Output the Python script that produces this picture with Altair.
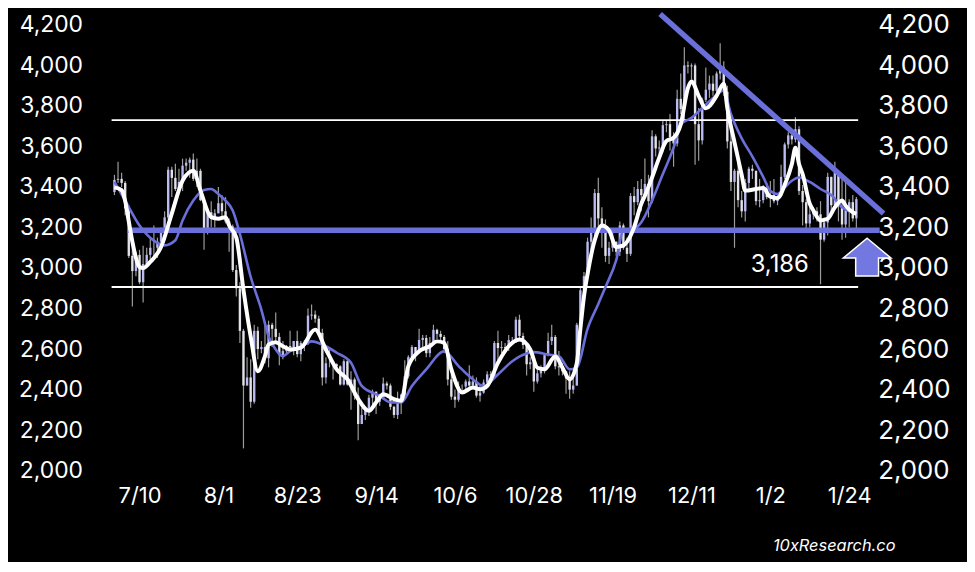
import altair as alt
import pandas as pd
import numpy as np

# ---------------- data ----------------
START = "2024-07-03"
OPEN0 = 3375
CLOSE = [3435, 3440, 3420, 3295, 3060, 2985, 3065, 2930, 3020, 3065,
         3100, 3100, 3130, 3175, 3250, 3485, 3445, 3390, 3425, 3505,
         3520, 3535, 3440, 3480, 3335, 3175, 3275, 3250, 3270, 3320,
         3280, 3230, 3205, 2990, 2900, 2690, 2420, 2460, 2340, 2690,
         2600, 2610, 2555, 2720, 2700, 2660, 2570, 2590, 2615, 2610,
         2640, 2575, 2630, 2625, 2765, 2770, 2750, 2680, 2460, 2530,
         2530, 2525, 2515, 2425, 2540, 2425, 2450, 2370, 2230, 2275,
         2300, 2360, 2390, 2340, 2360, 2430, 2420, 2315, 2275, 2340,
         2375, 2465, 2560, 2610, 2580, 2645, 2655, 2580, 2630, 2695,
         2675, 2660, 2600, 2450, 2365, 2350, 2415, 2415, 2440, 2420,
         2440, 2370, 2385, 2435, 2475, 2470, 2630, 2605, 2610, 2605,
         2645, 2645, 2745, 2665, 2620, 2525, 2535, 2440, 2480, 2505,
         2570, 2640, 2660, 2515, 2510, 2490, 2455, 2400, 2420, 2720,
         2890, 2960, 3130, 3180, 3370, 3245, 3190, 3060, 3100, 3130,
         3080, 3210, 3100, 3070, 3355, 3325, 3390, 3360, 3415, 3330,
         3650, 3590, 3595, 3705, 3710, 3645, 3615, 3835, 3785, 4000,
         3995, 4000, 3710, 3630, 3830, 3880, 3910, 3875, 3960, 3990,
         3870, 3625, 3425, 3480, 3335, 3280, 3420, 3490, 3480, 3330,
         3335, 3395, 3350, 3360, 3330, 3355, 3450, 3610, 3655, 3635,
         3685, 3380, 3325, 3220, 3265, 3280, 3265, 3140, 3225, 3450,
         3310, 3475, 3305, 3215, 3285, 3325, 3245, 3340]
HIGH = [3460, 3525, 3470, 3430, 3310, 3110, 3080, 3090, 3110, 3100,
        3145, 3210, 3150, 3200, 3280, 3500, 3500, 3515, 3490, 3540,
        3540, 3545, 3565, 3540, 3490, 3340, 3290, 3330, 3290, 3400,
        3360, 3350, 3245, 3215, 3015, 2930, 2700, 2560, 2550, 2720,
        2710, 2640, 2720, 2740, 2730, 2780, 2680, 2640, 2620, 2690,
        2640, 2690, 2640, 2645, 2800, 2820, 2790, 2765, 2700, 2560,
        2600, 2535, 2530, 2520, 2550, 2550, 2490, 2460, 2410, 2310,
        2310, 2375, 2400, 2390, 2380, 2460, 2440, 2430, 2320, 2390,
        2380, 2545, 2570, 2620, 2610, 2700, 2670, 2670, 2660, 2720,
        2700, 2690, 2670, 2640, 2500, 2400, 2440, 2425, 2450, 2520,
        2470, 2460, 2420, 2450, 2490, 2490, 2640, 2690, 2640, 2630,
        2670, 2660, 2760, 2770, 2680, 2625, 2560, 2560, 2500, 2520,
        2580, 2680, 2720, 2670, 2590, 2530, 2490, 2490, 2470, 2730,
        2910, 2980, 3150, 3250, 3390, 3445, 3300, 3240, 3130, 3180,
        3130, 3230, 3220, 3150, 3370, 3400, 3430, 3440, 3540, 3460,
        3680, 3660, 3630, 3730, 3730, 3760, 3670, 3880, 3960, 4090,
        4020, 4010, 4010, 3790, 3840, 3990, 3950, 3950, 3970, 4110,
        4020, 3900, 3700, 3490, 3550, 3380, 3440, 3500, 3510, 3480,
        3440, 3410, 3420, 3430, 3440, 3370, 3510, 3620, 3670, 3660,
        3745, 3700, 3410, 3340, 3320, 3300, 3300, 3330, 3250, 3470,
        3450, 3525, 3480, 3450, 3450, 3340, 3360, 3350]
LOW = [3360, 3420, 3400, 3260, 3050, 2810, 2960, 2920, 2830, 3010,
       3040, 3050, 3050, 3120, 3160, 3240, 3350, 3380, 3380, 3380,
       3480, 3445, 3430, 3400, 3330, 3090, 3165, 3200, 3200, 3270,
       3255, 3220, 3080, 2980, 2860, 2630, 2110, 2420, 2310, 2330,
       2550, 2580, 2530, 2510, 2610, 2640, 2520, 2550, 2580, 2600,
       2570, 2560, 2540, 2590, 2620, 2745, 2730, 2670, 2420, 2430,
       2510, 2450, 2500, 2420, 2420, 2420, 2300, 2350, 2150, 2260,
       2250, 2270, 2325, 2280, 2320, 2350, 2400, 2300, 2260, 2255,
       2280, 2370, 2455, 2555, 2540, 2580, 2590, 2560, 2560, 2625,
       2650, 2630, 2580, 2420, 2350, 2310, 2340, 2390, 2400, 2410,
       2410, 2360, 2340, 2380, 2430, 2435, 2460, 2520, 2580, 2590,
       2590, 2630, 2630, 2640, 2600, 2470, 2500, 2390, 2430, 2460,
       2480, 2565, 2620, 2500, 2470, 2470, 2380, 2355, 2380, 2420,
       2710, 2870, 2960, 3090, 3150, 3200, 3100, 3030, 3020, 3080,
       3060, 3060, 3090, 3030, 3060, 3260, 3310, 3280, 3350, 3250,
       3320, 3550, 3540, 3570, 3670, 3580, 3500, 3600, 3760, 3720,
       3960, 3930, 3510, 3530, 3610, 3820, 3840, 3850, 3860, 3930,
       3850, 3590, 3380, 3100, 3300, 3250, 3230, 3380, 3440, 3310,
       3300, 3320, 3340, 3300, 3320, 3310, 3350, 3440, 3590, 3610,
       3620, 3360, 3210, 3190, 3200, 3240, 3230, 2920, 3130, 3160,
       3270, 3320, 3230, 3140, 3150, 3200, 3230, 3190]

# short moving average (white line)
WHITE_DATES = ["2024-07-03", "2024-07-05", "2024-07-06", "2024-07-07", "2024-07-08",
               "2024-07-09", "2024-07-10", "2024-07-11", "2024-07-13", "2024-07-16",
               "2024-07-19", "2024-07-22", "2024-07-25", "2024-07-27", "2024-07-30",
               "2024-08-01", "2024-08-03", "2024-08-04", "2024-08-06", "2024-08-08",
               "2024-08-10", "2024-08-12", "2024-08-14", "2024-08-15", "2024-08-17",
               "2024-08-19", "2024-08-21", "2024-08-24", "2024-08-28", "2024-08-31",
               "2024-09-03", "2024-09-06", "2024-09-09", "2024-09-12", "2024-09-14",
               "2024-09-16", "2024-09-19", "2024-09-21", "2024-09-23", "2024-09-26",
               "2024-09-29", "2024-10-01", "2024-10-03", "2024-10-05", "2024-10-08",
               "2024-10-11", "2024-10-13", "2024-10-15", "2024-10-18", "2024-10-21",
               "2024-10-24", "2024-10-27", "2024-10-29", "2024-10-31", "2024-11-03",
               "2024-11-05", "2024-11-07", "2024-11-09", "2024-11-10", "2024-11-11",
               "2024-11-12", "2024-11-14", "2024-11-16", "2024-11-18", "2024-11-20",
               "2024-11-22", "2024-11-23", "2024-11-25", "2024-11-27", "2024-11-28",
               "2024-11-30", "2024-12-02", "2024-12-04", "2024-12-06", "2024-12-08",
               "2024-12-10", "2024-12-11", "2024-12-13", "2024-12-15", "2024-12-18",
               "2024-12-20", "2024-12-21", "2024-12-23", "2024-12-25", "2024-12-26",
               "2024-12-29", "2024-12-31", "2025-01-02", "2025-01-04", "2025-01-06",
               "2025-01-08", "2025-01-09", "2025-01-10", "2025-01-11", "2025-01-13",
               "2025-01-14", "2025-01-16", "2025-01-18", "2025-01-20", "2025-01-22",
               "2025-01-23", "2025-01-25", "2025-01-26"]
WHITE_VALUES = [3398, 3385, 3330, 3230, 3130, 3050, 3005, 3000, 3030, 3104,
                3269, 3431, 3480, 3382, 3251, 3243, 3251, 3210, 3150, 2892,
                2663, 2491, 2565, 2622, 2634, 2614, 2598, 2607, 2696, 2598,
                2500, 2451, 2353, 2295, 2337, 2377, 2353, 2345, 2516, 2589,
                2614, 2638, 2631, 2500, 2386, 2410, 2402, 2418, 2532, 2614,
                2647, 2598, 2508, 2500, 2565, 2508, 2451, 2530, 2700, 2860,
                2970, 3137, 3210, 3186, 3104, 3112, 3129, 3202, 3317, 3357,
                3447, 3545, 3627, 3643, 3709, 3888, 3921, 3850, 3788, 3850,
                3910, 3790, 3620, 3460, 3382, 3390, 3395, 3352, 3345, 3410,
                3513, 3594, 3513, 3464, 3317, 3284, 3235, 3243, 3300, 3333,
                3308, 3275, 3267]

# longer moving average (blue line)
BLUE_DATES = ["2024-07-03", "2024-07-06", "2024-07-10", "2024-07-14", "2024-07-17",
              "2024-07-20", "2024-07-22", "2024-07-25", "2024-07-28", "2024-07-30",
              "2024-08-01", "2024-08-03", "2024-08-05", "2024-08-07", "2024-08-10",
              "2024-08-13", "2024-08-15", "2024-08-17", "2024-08-19", "2024-08-21",
              "2024-08-24", "2024-08-27", "2024-08-31", "2024-09-03", "2024-09-07",
              "2024-09-10", "2024-09-15", "2024-09-18", "2024-09-21", "2024-09-24",
              "2024-09-28", "2024-10-03", "2024-10-07", "2024-10-11", "2024-10-14",
              "2024-10-18", "2024-10-22", "2024-10-26", "2024-10-28", "2024-11-01",
              "2024-11-04", "2024-11-07", "2024-11-09", "2024-11-12", "2024-11-15",
              "2024-11-17", "2024-11-20", "2024-11-22", "2024-11-25", "2024-11-27",
              "2024-11-30", "2024-12-03", "2024-12-06", "2024-12-08", "2024-12-11",
              "2024-12-14", "2024-12-17", "2024-12-20", "2024-12-22", "2024-12-25",
              "2024-12-28", "2024-12-31", "2025-01-02", "2025-01-04", "2025-01-06",
              "2025-01-08", "2025-01-10", "2025-01-13", "2025-01-16", "2025-01-19",
              "2025-01-22", "2025-01-24", "2025-01-26"]
BLUE_VALUES = [3425, 3333, 3210, 3135, 3112, 3137, 3235, 3333, 3385, 3390,
               3365, 3333, 3284, 3169, 2957, 2794, 2663, 2598, 2565, 2590,
               2610, 2638, 2614, 2582, 2532, 2418, 2369, 2337, 2337, 2418,
               2500, 2589, 2516, 2451, 2418, 2475, 2540, 2578, 2585, 2573,
               2565, 2500, 2508, 2700, 2823, 2906, 3039, 3186, 3194, 3226,
               3333, 3464, 3594, 3709, 3741, 3790, 3839, 3876, 3760, 3640,
               3550, 3450, 3380, 3365, 3398, 3431, 3447, 3425, 3390, 3360,
               3300, 3280, 3270]

# reference levels and annotations
SUPPORT = 3186
RANGE_LEVELS = [3730, 2906]
RANGE_START, RANGE_END = "2024-07-02T05:00:00", "2025-01-26T12:00:00"
SUPPORT_START, SUPPORT_END = "2024-07-06T13:00:00", "2025-02-01T12:00:00"
TREND_DATES = ["2024-12-02T06:00:00", "2025-02-02T14:00:00"]
TREND_VALUES = [4254, 3269]
LABEL_DATE, LABEL_VALUE, LABEL_TEXT = "2025-01-04T15:00:00", 3014, "3,186"
ARROW_DATE, ARROW_VALUE = "2025-01-29T00:00:00", 3054

TICK_DATES = ["2024-07-10", "2024-08-01", "2024-08-23", "2024-09-14", "2024-10-06",
              "2024-10-28", "2024-11-19", "2024-12-11", "2025-01-02", "2025-01-24"]
Y_TICKS = list(range(2000, 4201, 200))

# ---------------- tables ----------------
dates = pd.date_range(START, periods=len(CLOSE), freq="D")
opens = [OPEN0] + CLOSE[:-1]
candles = pd.DataFrame({"date": dates, "open": opens, "close": CLOSE,
                        "high": HIGH, "low": LOW})
candles["dir"] = np.where(candles["close"] >= candles["open"], "up", "down")

white = pd.DataFrame({"date": pd.to_datetime(WHITE_DATES), "v": WHITE_VALUES})
blue = pd.DataFrame({"date": pd.to_datetime(BLUE_DATES), "v": BLUE_VALUES})
levels = pd.DataFrame({"date": pd.to_datetime([RANGE_START] * 2),
                       "end": pd.to_datetime([RANGE_END] * 2),
                       "v": RANGE_LEVELS})
support = pd.DataFrame({"date": pd.to_datetime([SUPPORT_START]),
                        "end": pd.to_datetime([SUPPORT_END]), "v": [SUPPORT]})
trend = pd.DataFrame({"date": pd.to_datetime(TREND_DATES), "v": TREND_VALUES})
label = pd.DataFrame({"date": pd.to_datetime([LABEL_DATE]), "v": [LABEL_VALUE],
                      "t": [LABEL_TEXT]})
arrow = pd.DataFrame({"date": pd.to_datetime([ARROW_DATE]), "v": [ARROW_VALUE]})
mark = pd.DataFrame({"t": ["10xResearch.co"]})

# ---------------- encodings ----------------
BLUE = "#6b6fd9"
FONT = "Inter"
xdom = [alt.DateTime(year=2024, month=7, date=1), alt.DateTime(year=2025, month=1, date=30)]
xscale = alt.Scale(domain=xdom)
yscale = alt.Scale(domain=[2000, 4200], nice=False, zero=False)
xaxis = alt.Axis(values=[alt.DateTime(year=int(d[:4]), month=int(d[5:7]), date=int(d[8:]))
                         for d in TICK_DATES],
                 format="%-m/%-d", labelColor="white", labelFontSize=22,
                 labelFont=FONT, labelPadding=15, domain=False, ticks=False,
                 grid=False, title=None, labelFlush=False, labelOverlap=False)
yaxis_left = alt.Axis(values=Y_TICKS, format=",.0f", orient="left", labelColor="white",
                      labelFontSize=23, labelFont=FONT, labelPadding=25, domain=False,
                      ticks=False, grid=False, title=None)
yaxis_right = alt.Axis(values=Y_TICKS, format=",.0f", orient="right", labelColor="white",
                       labelFontSize=26, labelFont=FONT, labelPadding=7, domain=False,
                       ticks=False, grid=False, title=None)

X = alt.X("date:T", scale=xscale, axis=xaxis)
Y_NONE = dict(scale=yscale, axis=None)

wicks = alt.Chart(candles).mark_rule(strokeWidth=1.2, color="#9c9c9c").encode(
    x=X, y=alt.Y("low:Q", scale=yscale, axis=yaxis_left), y2="high:Q")

bodies = alt.Chart(candles).mark_rule(strokeWidth=2.4).encode(
    x=X, y=alt.Y("open:Q", **Y_NONE), y2="close:Q",
    color=alt.Color("dir:N", scale=alt.Scale(domain=["up", "down"],
                                             range=["#b9bbf2", "#e2e2e8"]),
                    legend=None))

range_lines = alt.Chart(levels).mark_rule(color="white", strokeWidth=2).encode(
    x=X, x2="end:T", y=alt.Y("v:Q", **Y_NONE))

support_line = alt.Chart(support).mark_rule(color=BLUE, strokeWidth=5.5).encode(
    x=X, x2="end:T", y=alt.Y("v:Q", **Y_NONE))

blue_ma = alt.Chart(blue).mark_line(color=BLUE, strokeWidth=2.6,
                                    interpolate="monotone").encode(
    x=X, y=alt.Y("v:Q", **Y_NONE))

white_ma = alt.Chart(white).mark_line(color="white", strokeWidth=4,
                                      interpolate="monotone").encode(
    x=X, y=alt.Y("v:Q", scale=yscale, axis=yaxis_right))

trend_line = alt.Chart(trend).mark_line(color=BLUE, strokeWidth=5.5,
                                        strokeCap="butt").encode(
    x=X, y=alt.Y("v:Q", **Y_NONE))

label_text = alt.Chart(label).mark_text(color="white", fontSize=24, font=FONT,
                                        align="center", baseline="middle").encode(
    x=X, y=alt.Y("v:Q", **Y_NONE), text="t:N")

ARROW_PATH = "M0,-0.79 L1,0.04 L0.48,0.04 L0.48,0.79 L-0.48,0.79 L-0.48,0.04 L-1,0.04 Z"
arrow_mark = alt.Chart(arrow).mark_point(shape=ARROW_PATH, size=2304, filled=True,
                                         fill="#7378e0", stroke="white",
                                         strokeWidth=1.5, opacity=1).encode(
    x=X, y=alt.Y("v:Q", **Y_NONE))

watermark = alt.Chart(mark).mark_text(color="white", fontSize=16.5, font=FONT,
                                      fontStyle="italic", align="right",
                                      baseline="middle").encode(
    x=alt.value(794), y=alt.value(525), text="t:N")

chart = alt.layer(
    wicks, bodies, range_lines, blue_ma, support_line, white_ma, trend_line,
    label_text, arrow_mark, watermark
).resolve_axis(y="independent").properties(
    width=769, height=449, background="black",
    padding={"left": 100, "top": 15, "right": 97, "bottom": 90},
    autosize=alt.AutoSizeParams(type="none")
).configure_view(stroke=None)

chart.save("out.html", embed_options={"renderer": "svg", "actions": False})
